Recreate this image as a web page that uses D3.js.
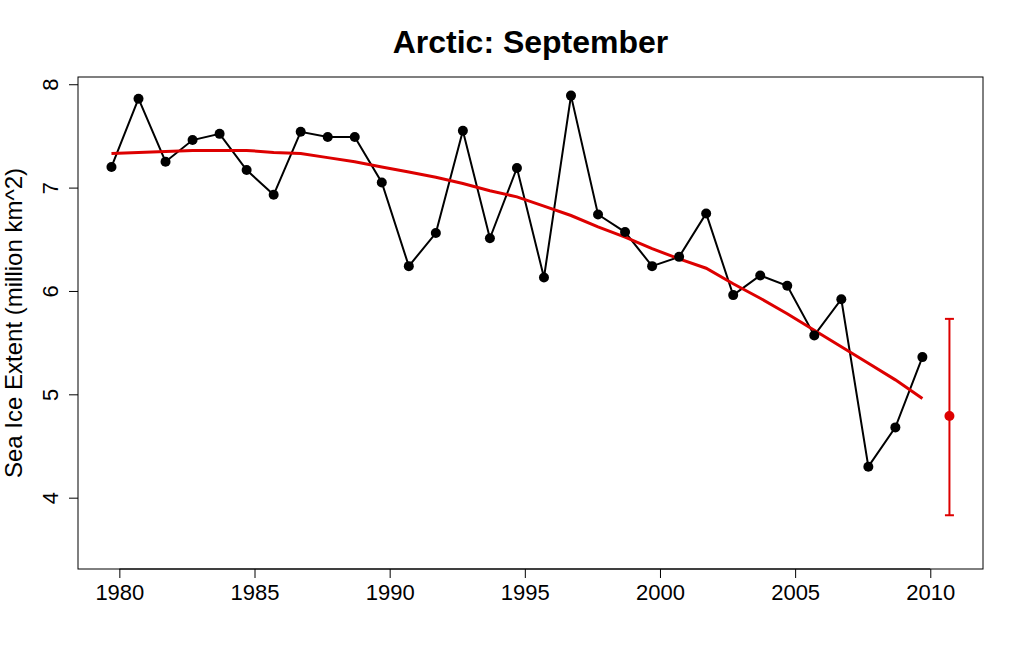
<!DOCTYPE html>
<html>
<head>
<meta charset="utf-8">
<script src="https://cdn.jsdelivr.net/npm/d3@7"></script>
<style>
  html, body { margin: 0; padding: 0; background: #fff; }
  svg { display: block; }
  text { font-family: Arial, "Liberation Sans", sans-serif; }
</style>
</head>
<body>
<svg id="chart" width="1024" height="667"></svg>
<script>
// ---- data ----
const years = [1979,1980,1981,1982,1983,1984,1985,1986,1987,1988,1989,1990,1991,1992,1993,1994,1995,1996,1997,1998,1999,2000,2001,2002,2003,2004,2005,2006,2007,2008,2009];
const extent = [7.20,7.86,7.25,7.46,7.52,7.17,6.93,7.54,7.49,7.49,7.05,6.24,6.56,7.55,6.51,7.19,6.13,7.89,6.74,6.57,6.24,6.33,6.75,5.96,6.15,6.05,5.57,5.92,4.30,4.68,5.36];
const fitted = [7.33,7.34,7.35,7.36,7.36,7.36,7.34,7.33,7.29,7.25,7.20,7.15,7.10,7.04,6.97,6.91,6.82,6.73,6.62,6.52,6.41,6.31,6.22,6.07,5.93,5.78,5.62,5.46,5.30,5.14,4.96];
const predYear = 2010;
const predValue = 4.79;
const predLow = 3.83;
const predHigh = 5.73;
const xTicks = [1980,1985,1990,1995,2000,2005,2010];
const yTicks = [4,5,6,7,8];
const title = "Arctic: September";
const yLabel = "Sea Ice Extent (million km^2)";
const monthOffset = 8.5 / 12; // September as decimal year

// ---- layout ----
const svg = d3.select("#chart");
const L = 78, R = 983, T = 77, B = 569;

const x = d3.scaleLinear().domain([1978.47, 2011.95]).range([L, R]);
const y = d3.scaleLinear().domain([3.31, 8.07]).range([B, T]);

// title
svg.append("text")
  .attr("x", (L + R) / 2).attr("y", 53)
  .attr("text-anchor", "middle")
  .attr("font-size", 32).attr("font-weight", "bold")
  .attr("fill", "#000")
  .text(title);

// axes
const xAxis = d3.axisBottom(x).tickValues(xTicks).tickFormat(d3.format("d")).tickSize(9).tickPadding(6);
const gx = svg.append("g").attr("transform", `translate(0,${B})`).call(xAxis);
gx.select(".domain").remove();
gx.selectAll("line").attr("stroke", "#000");
gx.selectAll("text").attr("font-size", 22).attr("fill", "#000")
  .attr("font-family", 'Arial, "Liberation Sans", sans-serif');
svg.append("line").attr("x1", x(1980)).attr("x2", x(2010)).attr("y1", B).attr("y2", B).attr("stroke", "#000");

const yAxis = d3.axisLeft(y).tickValues(yTicks).tickSize(9);
const gy = svg.append("g").attr("transform", `translate(${L},0)`).call(yAxis);
gy.select(".domain").remove();
gy.selectAll("line").attr("stroke", "#000");
gy.selectAll("text").remove();
gy.selectAll(".tick").append("text")
  .attr("transform", "translate(-28,0) rotate(-90)")
  .attr("text-anchor", "middle")
  .attr("dy", "0.35em")
  .attr("font-size", 22).attr("fill", "#000")
  .text(d => d);

// y label
svg.append("text")
  .attr("transform", `translate(22,${(T + B) / 2}) rotate(-90)`)
  .attr("text-anchor", "middle")
  .attr("font-size", 24).attr("fill", "#000")
  .text(yLabel);

// box
svg.append("rect").attr("x", L).attr("y", T).attr("width", R - L).attr("height", B - T)
  .attr("fill", "none").attr("stroke", "#000").attr("stroke-width", 1);

const pts = years.map((yr, i) => ({ t: yr + monthOffset, v: extent[i], f: fitted[i] }));

// black data line
svg.append("path").datum(pts)
  .attr("fill", "none").attr("stroke", "#000").attr("stroke-width", 2)
  .attr("d", d3.line().x(d => x(d.t)).y(d => y(d.v)));

// red fitted curve
svg.append("path").datum(pts)
  .attr("fill", "none").attr("stroke", "#dd0000").attr("stroke-width", 3)
  .attr("d", d3.line().x(d => x(d.t)).y(d => y(d.f)));

// points
svg.append("g").selectAll("circle").data(pts).join("circle")
  .attr("cx", d => x(d.t)).attr("cy", d => y(d.v)).attr("r", 5).attr("fill", "#000");

// prediction with error bar
const px = x(predYear + monthOffset);
const cap = 4.5;
const eb = svg.append("g").attr("stroke", "#dd0000").attr("stroke-width", 2);
eb.append("line").attr("x1", px).attr("x2", px).attr("y1", y(predLow)).attr("y2", y(predHigh));
eb.append("line").attr("x1", px - cap).attr("x2", px + cap).attr("y1", y(predLow)).attr("y2", y(predLow));
eb.append("line").attr("x1", px - cap).attr("x2", px + cap).attr("y1", y(predHigh)).attr("y2", y(predHigh));
svg.append("circle").attr("cx", px).attr("cy", y(predValue)).attr("r", 5).attr("fill", "#dd0000");
</script>
</body>
</html>
